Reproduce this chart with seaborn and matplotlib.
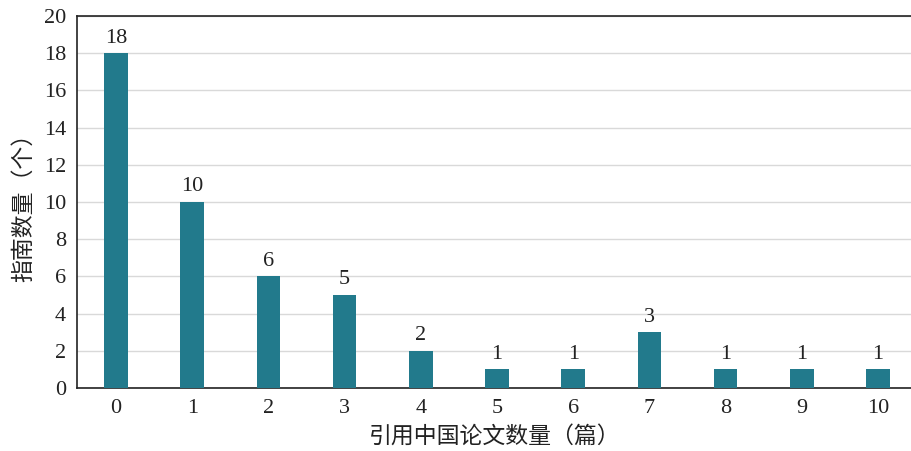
import matplotlib
matplotlib.use("Agg")
import matplotlib.pyplot as plt
import seaborn as sns
import pandas as pd

# Number of cited Chinese papers per guideline, and how many guidelines fall in each bin
papers = ["0", "1", "2", "3", "4", "5", "6", "7", "8", "9", "10"]
guidelines = [18, 10, 6, 5, 2, 1, 1, 3, 1, 1, 1]
y_ticks = [0, 2, 4, 6, 8, 10, 12, 14, 16, 18, 20]

bar_color = "#227a8c"

sns.set_theme(style="white")
plt.rcParams["font.family"] = ["Liberation Serif", "Noto Sans CJK SC", "DejaVu Sans"]

df = pd.DataFrame({"papers": papers, "guidelines": guidelines})

fig = plt.figure(figsize=(9.12, 4.51), dpi=100)
ax = fig.add_axes([77 / 912, 1 - 388 / 451, 1 - 77 / 912, 372 / 451])

sns.barplot(data=df, x="papers", y="guidelines", order=papers, color=bar_color,
            width=0.31, saturation=1, linewidth=0, ax=ax, zorder=3)

for i, v in enumerate(guidelines):
    ax.annotate(str(v), (i, v), xytext=(0, 4), textcoords="offset points",
                ha="center", va="bottom", fontsize=16, color="#222222",
                family="Liberation Serif")

ax.set_xlim(-0.512, 10.446)
ax.set_ylim(0, 20)
ax.set_yticks(y_ticks)
ax.yaxis.grid(True, color="#d9d9d9", linewidth=1, zorder=0)
ax.xaxis.grid(False)
ax.set_axisbelow(True)

for side in ("left", "bottom", "top"):
    ax.spines[side].set_visible(True)
    ax.spines[side].set_color("#222222")
    ax.spines[side].set_linewidth(1.2)
ax.spines["right"].set_visible(False)

ax.tick_params(axis="both", length=0, labelsize=16, colors="#222222", pad=8)
for lbl in ax.get_xticklabels() + ax.get_yticklabels():
    lbl.set_family("Liberation Serif")

ax.set_xlabel("引用中国论文数量（篇）", fontsize=16.5, color="#222222", labelpad=5,
              family=["Noto Sans CJK SC", "DejaVu Sans"])
ax.set_ylabel("指南数量（个）", fontsize=16.5, color="#222222", labelpad=6,
              family=["Noto Sans CJK SC", "DejaVu Sans"])

fig.savefig("out.png", dpi=100)
